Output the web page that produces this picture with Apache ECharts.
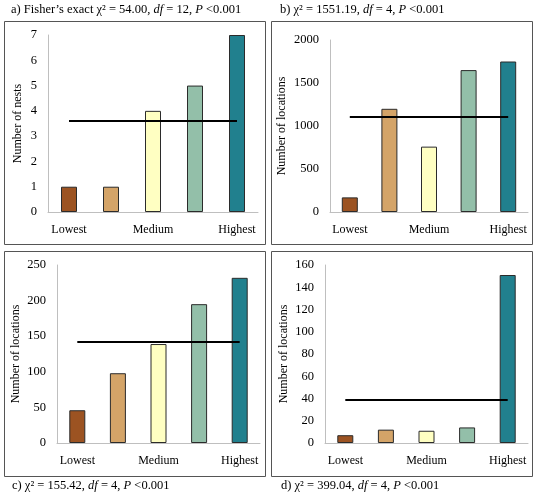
<!DOCTYPE html>
<html>
<head>
<meta charset="utf-8">
<script src="https://cdn.jsdelivr.net/npm/echarts@6/dist/echarts.min.js"></script>
<style>html,body{margin:0;padding:0;background:#fff}#c{width:537px;height:498px}</style>
</head>
<body>
<div id="c"></div>
<script>
const categories = ['Lowest', 'Low', 'Medium', 'High', 'Highest'];
const nestsA = [1, 1, 4, 5, 7];
const locationsB = [170, 1200, 760, 1650, 1750];
const locationsC = [46, 98, 139, 195, 232];
const locationsD = [7, 12, 11, 14, 151];
const expectedA = 3.6;
const expectedB = 1106;
const expectedC = 142;
const expectedD = 39;
const yMax = [7, 2000, 250, 160];
const yStep = [1, 500, 50, 20];
const yNames = ['Number of nests', 'Number of locations', 'Number of locations', 'Number of locations'];
const barColors = ['#9C5322', '#D4A468', '#FFFFC2', '#93BFA9', '#21808E'];

const FONT = 'Liberation Serif';
const chart = echarts.init(document.getElementById('c'), null, {renderer: 'canvas'});

const grids = [
  {left: 48, top: 35, width: 210, height: 177},
  {left: 330, top: 40, width: 198, height: 172},
  {left: 57, top: 265, width: 203, height: 178},
  {left: 325, top: 265, width: 203, height: 178}
];
const seriesData = [nestsA, locationsB, locationsC, locationsD];
const expected = [expectedA, expectedB, expectedC, expectedD];

const rich = {
  n: {fontFamily: FONT, fontSize: 12.5, fontWeight: 'normal', color: '#000'},
  i: {fontFamily: FONT, fontSize: 12.5, fontWeight: 'normal', fontStyle: 'italic', color: '#000'}
};
function titleText(prefix, chi, df) {
  return '{n|' + prefix + ' χ² = ' + chi + ', }{i|df}{n| = ' + df + ', }{i|P}{n| <0.001}';
}
const tStyle = {rich: rich, fontSize: 12.5, fontWeight: 'normal', fontFamily: FONT};

const option = {
  animation: false,
  backgroundColor: '#fff',
  title: [
    {text: titleText("a) Fisher’s exact", '54.00', 12), left: 11, top: 3, padding: 0, textStyle: tStyle},
    {text: titleText('b)', '1551.19', 4), left: 280, top: 3, padding: 0, textStyle: tStyle},
    {text: titleText('c)', '155.42', 4), left: 12, top: 479, padding: 0, textStyle: tStyle},
    {text: titleText('d)', '399.04', 4), left: 281, top: 479, padding: 0, textStyle: tStyle}
  ],
  graphic: [
    {type: 'rect', shape: {x: 4.5, y: 21.5, width: 261, height: 223}, style: {fill: 'none', stroke: '#555', lineWidth: 1}},
    {type: 'rect', shape: {x: 271.5, y: 21.5, width: 261, height: 223}, style: {fill: 'none', stroke: '#555', lineWidth: 1}},
    {type: 'rect', shape: {x: 4.5, y: 251.5, width: 261, height: 225}, style: {fill: 'none', stroke: '#555', lineWidth: 1}},
    {type: 'rect', shape: {x: 271.5, y: 251.5, width: 261, height: 225}, style: {fill: 'none', stroke: '#555', lineWidth: 1}}
  ],
  grid: grids,
  xAxis: grids.map((g, k) => ({
    type: 'category', gridIndex: k, data: categories,
    axisLine: {lineStyle: {color: '#bfbfbf', width: 1}},
    axisTick: {show: false},
    axisLabel: {interval: 1, color: '#000', fontFamily: FONT, fontSize: 12, margin: 12}
  })),
  yAxis: grids.map((g, k) => ({
    type: 'value', gridIndex: k, min: 0, max: yMax[k], interval: yStep[k],
    name: yNames[k], nameLocation: 'middle', nameGap: k === 0 ? 24 : (k === 1 ? 42 : 35),
    nameTextStyle: {color: '#000', fontFamily: FONT, fontSize: 12},
    axisLine: {show: true, lineStyle: {color: '#bfbfbf', width: 1}},
    axisTick: {show: false},
    splitLine: {show: false},
    axisLabel: {color: '#000', fontFamily: FONT, fontSize: 12.5, margin: 11, formatter: v => String(v)}
  })),
  series: seriesData.map((d, k) => ({
    type: 'bar', xAxisIndex: k, yAxisIndex: k, barWidth: 16,
    data: d.map((v, i) => ({value: v, itemStyle: {color: barColors[i], borderColor: '#2b2b2b', borderWidth: 1}})),
    markLine: {
      silent: true, symbol: 'none', label: {show: false},
      lineStyle: {color: '#000', width: 2, type: 'solid'},
      data: [[{coord: [0, expected[k]]}, {coord: [4, expected[k]]}]]
    }
  }))
};
chart.setOption(option);
</script>
</body>
</html>
